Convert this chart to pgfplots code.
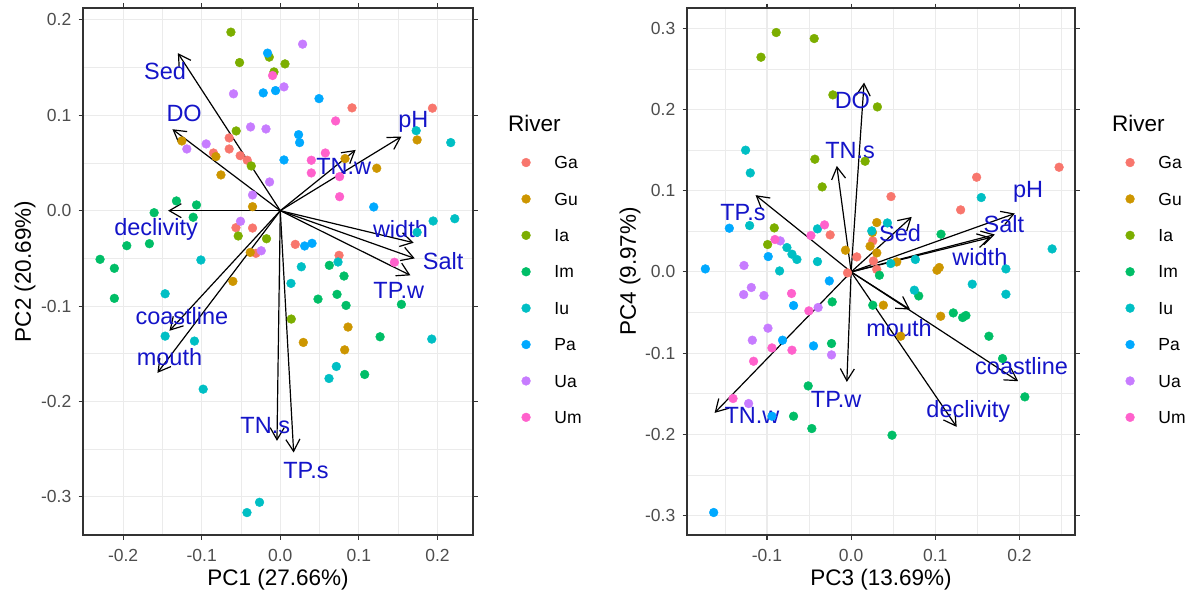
\documentclass[border=0pt]{standalone}
\usepackage{fontspec}
\setmainfont{Liberation Sans}
\usepackage{pgfplots}
\pgfplotsset{compat=1.18}
\usetikzlibrary{arrows.meta}

\definecolor{cGa}{HTML}{F8766D}
\definecolor{cGu}{HTML}{CD9600}
\definecolor{cIa}{HTML}{7CAE00}
\definecolor{cIm}{HTML}{00BE67}
\definecolor{cIu}{HTML}{00BFC4}
\definecolor{cPa}{HTML}{00A9FF}
\definecolor{cUa}{HTML}{C77CFF}
\definecolor{cUm}{HTML}{FF61CC}
\definecolor{grey20}{HTML}{333333}
\definecolor{grey30}{HTML}{4D4D4D}
\definecolor{gridc}{HTML}{EBEBEB}
\definecolor{labblue}{RGB}{20,20,200}

\tikzset{
  lab/.style={text=labblue, font=\fontsize{23.5}{23.5}\selectfont, inner sep=0pt, anchor=center},
  ttl/.style={font=\fontsize{22.5}{22.5}\selectfont, anchor=west, inner sep=0pt},
}
\pgfplotsset{
  bip/.style={
    scale only axis, clip=false, height=527pt,
    axis line style={color=grey20, line width=1.1pt},
    grid=both,
    major grid style={gridc, line width=1.1pt},
    minor grid style={gridc, line width=0.55pt},
    tick align=outside, major tick length=4.5pt, minor tick length=0pt,
    tick style={grey20, line width=1.1pt},
    xticklabel style={font=\fontsize{17.5}{17.5}\selectfont, text=grey30, anchor=north, inner sep=0pt, yshift=-10pt},
    yticklabel style={font=\fontsize{17.5}{17.5}\selectfont, text=grey30, anchor=east, inner sep=0pt, xshift=-7pt},
    label style={font=\fontsize{22.5}{22.5}\selectfont},
    ylabel style={anchor=center},
    xlabel style={anchor=center, at={(axis description cs:0.5,-0.0854)}},
    legend style={draw=none, fill=none, inner sep=0pt, anchor=north west,
      font=\fontsize{17.5}{17.5}\selectfont, row sep=23.9pt, column sep=24pt,
      nodes={inner sep=0pt, text height=12.5pt, text depth=0pt}},
    legend cell align=left,
  },
  pt/.style={only marks, mark=*, mark size=4.4pt},
  arr/.style={black, line width=1.2pt, forget plot, -{Straight Barb[length=12pt,width=14pt]}},
}

\begin{document}
\begin{tikzpicture}
\path[use as bounding box] (0,0) rectangle (1193pt,595pt);

% ---------------- Left biplot ----------------
\begin{axis}[bip, at={(83pt,60pt)}, anchor=south west, width=390pt,
  xmin=-0.251, xmax=0.2452, ymin=-0.340, ymax=0.2125,
  xtick={-0.2,-0.1,0,0.1,0.2}, xticklabels={-0.2,-0.1,0.0,0.1,0.2},
  ytick={-0.3,-0.2,-0.1,0,0.1,0.2}, yticklabels={-0.3,-0.2,-0.1,0.0,0.1,0.2},
  minor xtick={-0.15,-0.05,0.05,0.15}, minor ytick={-0.25,-0.15,-0.05,0.05,0.15},
  xlabel={PC1 (27.66\%)}, ylabel={PC2 (20.69\%)},
  ylabel style={at={(axis description cs:-0.1487,0.5)}},
  legend style={at={(axis description cs:1.1243,0.719)}},
]
\addplot[pt, color=cGa] coordinates {(0.0913,0.1078) (0.1936,0.1075) (-0.0650,0.0763) (-0.0650,0.0647) (-0.0850,0.0605) (-0.0510,0.0577) (-0.0420,0.0529) (-0.0564,-0.0178) (-0.0353,-0.0182) (0.0191,-0.0353) (0.0748,-0.0468) (-0.0310,-0.0447)};
\addlegendentry{Ga}
\addplot[pt, color=cGu] coordinates {(-0.1252,0.0731) (-0.0819,0.0567) (-0.0755,0.0375) (0.0824,0.0546) (0.1227,0.0445) (0.1741,0.0742) (-0.0353,0.0042) (-0.0382,-0.0437) (-0.0603,-0.0741) (0.0862,-0.1220) (0.0293,-0.1381) (0.0819,-0.1459)};
\addlegendentry{Gu}
\addplot[pt, color=cIa] coordinates {(-0.0628,0.1872) (-0.0140,0.1610) (-0.0518,0.1553) (0.0060,0.1539) (-0.0080,0.1455) (-0.0561,0.0836) (-0.0369,0.0469) (-0.0535,-0.0265) (-0.0175,-0.0294) (0.0140,-0.1136)};
\addlegendentry{Ia}
\addplot[pt, color=cIm] coordinates {(-0.1321,0.0102) (-0.1066,0.0060) (-0.1605,-0.0021) (-0.1108,-0.0069) (-0.1953,-0.0367) (-0.1665,-0.0346) (-0.2293,-0.0510) (-0.2111,-0.0604) (0.0624,-0.0573) (0.0811,-0.0685) (-0.2111,-0.0919) (0.0480,-0.0927) (0.0722,-0.0877) (0.0837,-0.0993) (0.1541,-0.0982) (0.1270,-0.1322) (0.1074,-0.1717)};
\addlegendentry{Im}
\addplot[pt, color=cIu] coordinates {(0.1729,0.0839) (0.2169,0.0714) (0.1945,-0.0108) (0.2220,-0.0084) (0.1741,-0.0227) (-0.1010,-0.0517) (0.0735,-0.0538) (0.0268,-0.0588) (0.0136,-0.0762) (-0.1465,-0.0871) (-0.1465,-0.1315) (-0.1092,-0.1367) (0.1927,-0.1346) (0.0713,-0.1633) (0.0620,-0.1759) (-0.0981,-0.1871) (-0.0264,-0.3057) (-0.0424,-0.3165)};
\addlegendentry{Iu}
\addplot[pt, color=cPa] coordinates {(-0.0162,0.1652) (-0.0217,0.1235) (-0.0060,0.1259) (0.0493,0.1175) (0.0233,0.0797) (0.0246,0.0714) (0.0047,0.0532) (0.1189,0.0039) (0.0310,-0.0370) (0.0404,-0.0342)};
\addlegendentry{Pa}
\addplot[pt, color=cUa] coordinates {(0.0284,0.1746) (-0.0595,0.1225) (0.0047,0.1298) (-0.0378,0.0878) (-0.0182,0.0857) (-0.0943,0.0700) (-0.1189,0.0647) (-0.0136,0.0301) (-0.0353,0.0165) (-0.0506,-0.0111) (-0.0242,-0.0420)};
\addlegendentry{Ua}
\addplot[pt, color=cUm] coordinates {(-0.0098,0.1417) (0.0704,0.0941) (0.0573,0.0605) (0.0395,0.0529) (0.0395,0.0396) (0.0755,0.0357) (0.0755,0.0147) (0.1452,-0.0541)};
\addlegendentry{Um}
% loadings
\addplot[arr] coordinates {(0,0) (-0.1303,0.1652)};
\addplot[arr] coordinates {(0,0) (-0.1372,0.0854)};
\addplot[arr] coordinates {(0,0) (-0.1427,0.0000)};
\addplot[arr] coordinates {(0,0) (0.1541,0.0777)};
\addplot[arr] coordinates {(0,0) (0.0959,0.0637)};
\addplot[arr] coordinates {(0,0) (0.1698,-0.0336)};
\addplot[arr] coordinates {(0,0) (0.1711,-0.0500)};
\addplot[arr] coordinates {(0,0) (0.1656,-0.0678)};
\addplot[arr] coordinates {(0,0) (-0.1410,-0.1259)};
\addplot[arr] coordinates {(0,0) (-0.1563,-0.1700)};
\addplot[arr] coordinates {(0,0) (-0.0042,-0.2413)};
\addplot[arr] coordinates {(0,0) (0.0170,-0.2535)};
\node[lab] at (axis cs:-0.1465,0.1459) {Sed};
\node[lab] at (axis cs:-0.1223,0.1015) {DO};
\node[lab] at (axis cs:-0.1580,-0.0195) {declivity};
\node[lab] at (axis cs:0.1694,0.0934) {pH};
\node[lab] at (axis cs:0.0807,0.0462) {TN.w};
\node[lab] at (axis cs:0.1529,-0.0195) {width};
\node[lab] at (axis cs:0.2072,-0.0525) {Salt};
\node[lab] at (axis cs:0.1507,-0.0832) {TP.w};
\node[lab] at (axis cs:-0.1252,-0.1102) {coastline};
\node[lab] at (axis cs:-0.1410,-0.1538) {mouth};
\node[lab] at (axis cs:-0.0191,-0.2249) {TN.s};
\node[lab] at (axis cs:0.0327,-0.2721) {TP.s};
\node[ttl] at (axis description cs:1.0897,0.7818) {River};
\end{axis}

% ---------------- Right biplot ----------------
\begin{axis}[bip, at={(687pt,60pt)}, anchor=south west, width=388pt,
  xmin=-0.195, xmax=0.266, ymin=-0.324, ymax=0.325,
  xtick={-0.1,0,0.1,0.2}, xticklabels={-0.1,0.0,0.1,0.2},
  ytick={-0.3,-0.2,-0.1,0,0.1,0.2,0.3}, yticklabels={-0.3,-0.2,-0.1,0.0,0.1,0.2,0.3},
  minor xtick={-0.15,-0.05,0.05,0.15,0.25}, minor ytick={-0.25,-0.15,-0.05,0.05,0.15,0.25},
  xlabel={PC3 (13.69\%)}, ylabel={PC4 (9.97\%)},
  ylabel style={at={(axis description cs:-0.147,0.5)}},
  legend style={at={(axis description cs:1.1301,0.719)}},
]
\addplot[pt, color=cGa] coordinates {(0.2471,0.1289) (0.1491,0.1166) (0.0474,0.0928) (0.1301,0.0764) (-0.0249,0.0456) (0.0257,0.0382) (0.0067,0.0185) (0.0265,0.0135) (0.0305,0.0030) (-0.0043,-0.0012)};
\addlegendentry{Ga}
\addplot[pt, color=cGu] coordinates {(0.0305,0.0608) (0.0253,0.0485) (0.0225,0.0316) (0.0305,0.0234) (-0.0067,0.0267) (0.0542,0.0123) (0.1020,0.0021) (0.1047,0.0054) (0.0383,-0.0410) (0.0589,-0.0792) (0.1064,-0.0546)};
\addlegendentry{Gu}
\addplot[pt, color=cIa] coordinates {(-0.0890,0.2948) (-0.0439,0.2874) (-0.1071,0.2644) (-0.0217,0.2180) (0.0312,0.2032) (-0.0431,0.1388) (0.0166,0.1363) (-0.0344,0.1047) (-0.0913,0.0542) (-0.0992,0.0337)};
\addlegendentry{Ia}
\addplot[pt, color=cIm] coordinates {(0.1068,0.0464) (0.0336,-0.0041) (0.0803,-0.0296) (-0.0225,-0.0369) (0.0257,-0.0410) (0.1214,-0.0505) (0.1325,-0.0562) (0.1364,-0.0537) (0.1637,-0.0792) (0.1799,-0.1067) (0.2064,-0.1539) (-0.0233,-0.0882) (-0.0510,-0.1404) (-0.0684,-0.1777) (-0.0467,-0.1929) (0.0486,-0.2011)};
\addlegendentry{Im}
\addplot[pt, color=cIu] coordinates {(-0.1254,0.1499) (-0.1198,0.1219) (0.1546,0.0916) (0.2388,0.0283) (-0.1206,0.0571) (-0.0400,0.0530) (-0.0763,0.0300) (-0.0703,0.0218) (-0.0644,0.0153) (-0.0850,0.0012) (-0.0400,0.0127) (0.0431,0.0603) (0.0245,0.0505) (0.0471,0.0103) (0.0763,0.0153) (0.1839,0.0037) (0.1439,-0.0151) (0.1839,-0.0275) (0.0751,-0.0225)};
\addlegendentry{Iu}
\addplot[pt, color=cPa] coordinates {(-0.1732,0.0037) (-0.1447,0.0538) (-0.0985,0.0189) (-0.0259,-0.0111) (-0.0684,-0.0414) (-0.0815,-0.0841) (-0.0447,-0.0911) (-0.1633,-0.2963) (-0.0941,-0.1777)};
\addlegendentry{Pa}
\addplot[pt, color=cUa] coordinates {(-0.1273,0.0079) (-0.1186,-0.0192) (-0.1277,-0.0279) (-0.1036,-0.0291) (-0.0842,0.0382) (-0.0392,-0.0438) (-0.0988,-0.0693) (-0.1174,-0.0841) (-0.0233,-0.1022) (-0.1218,-0.1621)};
\addlegendentry{Ua}
\addplot[pt, color=cUm] coordinates {(-0.0316,0.0579) (-0.0478,0.0448) (-0.0905,0.0399) (-0.0708,-0.0266) (-0.0502,-0.0480) (-0.0941,-0.0936) (-0.0703,-0.0964) (-0.1159,-0.1100) (-0.1403,-0.1559)};
\addlegendentry{Um}
% loadings
\addplot[arr] coordinates {(0,0) (0.0154,0.2332)};
\addplot[arr] coordinates {(0,0) (-0.0170,0.1305)};
\addplot[arr] coordinates {(0,0) (-0.1135,0.0945)};
\addplot[arr] coordinates {(0,0) (0.0720,0.0677)};
\addplot[arr] coordinates {(0,0) (0.1945,0.0719)};
\addplot[arr] coordinates {(0,0) (0.1708,0.0460)};
\addplot[arr] coordinates {(0,0) (0.1659,0.0424)};
\addplot[arr] coordinates {(0,0) (0.0700,-0.0463)};
\addplot[arr] coordinates {(0,0) (0.1985,-0.1346)};
\addplot[arr] coordinates {(0,0) (0.1254,-0.1909)};
\addplot[arr] coordinates {(0,0) (-0.0051,-0.1355)};
\addplot[arr] coordinates {(0,0) (-0.1622,-0.1736)};
\node[lab] at (axis cs:0.0015,0.2115) {DO};
\node[lab] at (axis cs:-0.0012,0.1499) {TN.s};
\node[lab] at (axis cs:-0.1285,0.0731) {TP.s};
\node[lab] at (axis cs:0.0581,0.0473) {Sed};
\node[lab] at (axis cs:0.2103,0.0985) {pH};
\node[lab] at (axis cs:0.1815,0.0587) {Salt};
\node[lab] at (axis cs:0.1530,0.0185) {width};
\node[lab] at (axis cs:0.0569,-0.0690) {mouth};
\node[lab] at (axis cs:0.2025,-0.1158) {coastline};
\node[lab] at (axis cs:0.1392,-0.1715) {declivity};
\node[lab] at (axis cs:-0.0178,-0.1572) {TP.w};
\node[lab] at (axis cs:-0.1178,-0.1765) {TN.w};
\node[ttl] at (axis description cs:1.0954,0.7818) {River};
\end{axis}
\end{tikzpicture}
\end{document}
